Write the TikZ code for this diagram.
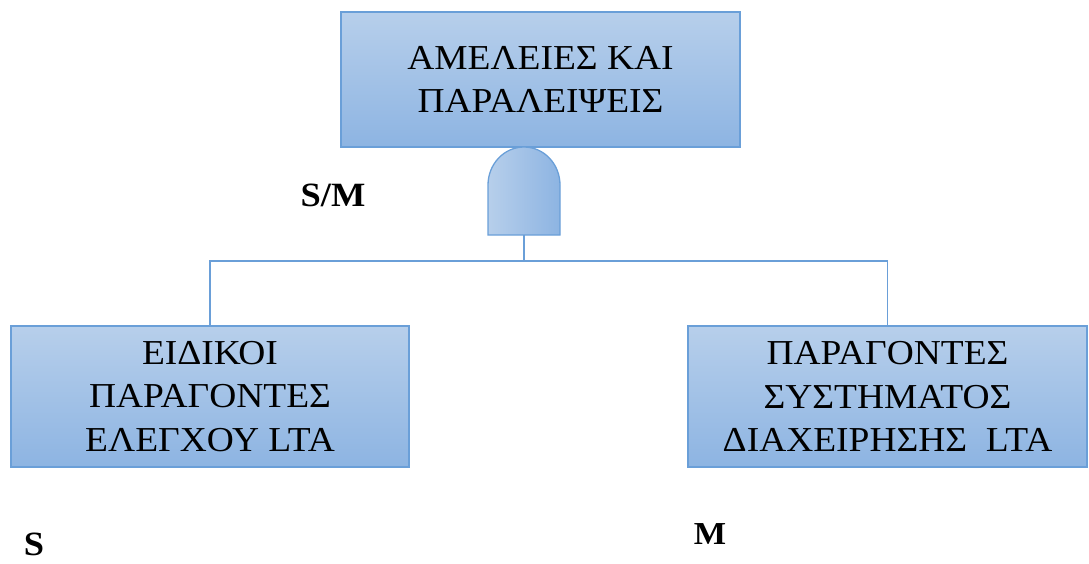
\documentclass[tikz,border=0pt]{standalone}
\usepackage{fontspec}
\setmainfont{Liberation Serif}[FakeStretch=1.07]
\definecolor{boxtop}{HTML}{B7CFEB}
\definecolor{boxbot}{HTML}{8DB4E2}
\definecolor{edge}{HTML}{6A9FD8}
\begin{document}
\begin{tikzpicture}[x=1pt,y=-1pt,
  eventbox/.style={draw=edge, line width=1.3pt, top color=boxtop, bottom color=boxbot,
    align=center, inner sep=0pt, font=\fontsize{35}{43.5}\selectfont},
  wire/.style={draw=edge, line width=1.3pt},
  tag/.style={font=\fontsize{34}{40}\selectfont\bfseries, inner sep=0pt}]
\useasboundingbox (0,0) rectangle (1089,563);

% events
\node[eventbox, minimum width=399pt, minimum height=135pt] (top) at (540.5,79.5)
  {ΑΜΕΛΕΙΕΣ ΚΑΙ\\ΠΑΡΑΛΕΙΨΕΙΣ};
\node[eventbox, minimum width=398pt, minimum height=141pt] (L) at (210,396.5)
  {ΕΙΔΙΚΟΙ\\ΠΑΡΑΓΟΝΤΕΣ\\ΕΛΕΓΧΟΥ LTA};
\node[eventbox, minimum width=399pt, minimum height=141pt] (R) at (887.5,396.5)
  {ΠΑΡΑΓΟΝΤΕΣ\\ΣΥΣΤΗΜΑΤΟΣ\\ΔΙΑΧΕΙΡΗΣΗΣ~~LTA};

% AND gate
\path[draw=edge, line width=1.3pt, left color=boxtop, right color=boxbot]
  (488,235) -- (488,185) arc[start angle=180, end angle=360, x radius=36, y radius=38]
  -- (560,235) -- cycle;
\coordinate (gbot) at (524,235);
\coordinate (bus) at (524,261);

% connectors
\draw[wire] (gbot) -- (bus);
\draw[wire] (bus) -| (L.north);
\draw[wire] (bus) -| (R.north);

% labels
\node[tag] (sm) at (333,195) {S/M};
\node[tag] (s) at (34,544) {S};
\node[tag, font=\fontsize{32}{38}\selectfont\bfseries] (m) at (710,534) {M};
\end{tikzpicture}
\end{document}
